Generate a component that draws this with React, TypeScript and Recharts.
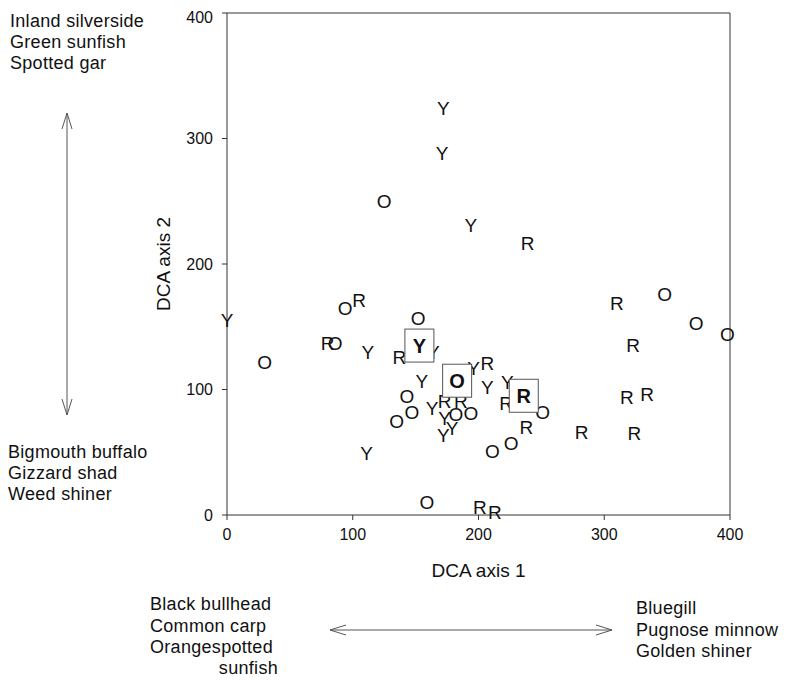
import React from "react";
import { ScatterChart, Scatter, XAxis, YAxis } from "recharts";

// Site scores on DCA axes, grouped by year class letter
const ySites: [number, number][] = [
  [172, 324], [171, 288], [194, 231], [0, 155], [112, 130], [111, 49],
  [155, 107], [163, 85], [173, 77], [172, 64], [179, 69], [196, 117],
  [207, 102], [223, 106], [164, 130],
];
const oSites: [number, number][] = [
  [125, 250], [94, 165], [86, 137], [30, 122], [152, 157], [143, 95],
  [147, 82], [135, 75], [182, 80], [194, 81], [211, 51], [226, 57],
  [251, 82], [159, 10], [348, 176], [373, 153], [398, 144],
];
const rSites: [number, number][] = [
  [105, 171], [80, 137], [137, 126], [239, 217], [207, 121], [173, 91],
  [186, 91], [222, 89], [238, 70], [201, 6], [213, 2], [310, 169],
  [323, 135], [318, 94], [334, 96], [282, 66], [324, 65],
];
const centroidLabels = ["Y", "O", "R"];
const centroidX = [153, 183, 236];
const centroidY = [135, 107, 95];

const axisTicks = [0, 100, 200, 300, 400];

const axis2High = ["Inland silverside", "Green sunfish", "Spotted gar"];
const axis2Low = ["Bigmouth buffalo", "Gizzard shad", "Weed shiner"];
const axis1Low = ["Black bullhead", "Common carp", "Orangespotted"];
const axis1LowLast = "sunfish";
const axis1High = ["Bluegill", "Pugnose minnow", "Golden shiner"];

const toPts = (arr: [number, number][]) => arr.map(([x, y]) => ({ x, y }));
const centroids = centroidLabels.map((l, i) => ({ x: centroidX[i], y: centroidY[i], l }));

const FONT = 'Arial, "Liberation Sans", Helvetica, sans-serif';

const letterShape = (letter: string) => (props: any) => (
  <text
    x={props.cx}
    y={props.cy}
    dy="0.36em"
    textAnchor="middle"
    fontSize={19}
    fontFamily={FONT}
    fill="#111"
  >
    {letter}
  </text>
);

const boxShape = (props: any) => (
  <g>
    <rect x={props.cx - 14.5} y={props.cy - 16.5} width={29} height={33} fill="#fff" stroke="#555" strokeWidth={1} />
    <text
      x={props.cx}
      y={props.cy}
      dy="0.36em"
      textAnchor="middle"
      fontSize={20}
      fontWeight="bold"
      fontFamily={FONT}
      fill="#111"
    >
      {props.payload.l}
    </text>
  </g>
);

const tickStyle = { fontSize: 16, fill: "#111", fontFamily: FONT };

const annoText = { fontSize: 18, fill: "#111", fontFamily: FONT, letterSpacing: 0.3 } as const;

export default function App() {
  return (
    <div style={{ position: "relative", width: 772, height: 672 }}>
      <ScatterChart width={772} height={617} margin={{ top: 0, right: 40, bottom: 0, left: 91 }}>
        <XAxis
          xAxisId="b"
          type="number"
          dataKey="x"
          domain={[0, 400]}
          ticks={axisTicks}
          orientation="bottom"
          height={110}
          tickSize={5}
          tickMargin={9}
          stroke="#333"
          tick={tickStyle}
          label={{ value: "DCA axis 1", position: "center", fontSize: 19, fill: "#111", fontFamily: FONT }}
        />
        <XAxis
          xAxisId="t"
          type="number"
          dataKey="x"
          domain={[0, 400]}
          ticks={axisTicks}
          orientation="top"
          height={5}
          tickSize={5}
          stroke="#333"
          tickFormatter={() => ""}
        />
        <YAxis
          yAxisId="l"
          type="number"
          dataKey="y"
          domain={[0, 400]}
          ticks={axisTicks}
          orientation="left"
          width={128}
          tickSize={5}
          tickMargin={9}
          stroke="#333"
          tick={tickStyle}
          label={{ value: "DCA axis 2", position: "center", angle: -90, fontSize: 19, fill: "#111", fontFamily: FONT }}
        />
        <YAxis
          yAxisId="r"
          type="number"
          dataKey="y"
          domain={[0, 400]}
          ticks={axisTicks}
          orientation="right"
          width={10}
          tickSize={5}
          stroke="#333"
          tickFormatter={() => ""}
        />
        <Scatter data={toPts(oSites)} xAxisId="b" yAxisId="l" shape={letterShape("O")} isAnimationActive={false} />
        <Scatter data={toPts(rSites)} xAxisId="b" yAxisId="l" shape={letterShape("R")} isAnimationActive={false} />
        <Scatter data={toPts(ySites)} xAxisId="b" yAxisId="l" shape={letterShape("Y")} isAnimationActive={false} />
        <Scatter data={centroids} xAxisId="b" yAxisId="l" shape={boxShape} isAnimationActive={false} />
      </ScatterChart>
      <svg
        width={780}
        height={672}
        style={{ position: "absolute", left: 0, top: 0, pointerEvents: "none" }}
      >
        {axis2High.map((t, i) => (
          <text key={t} x={2} y={19 + i * 21} {...annoText}>{t}</text>
        ))}
        <g stroke="#555" strokeWidth={1} fill="none">
          <line x1={59} y1={105} x2={59} y2={407} />
          <polyline points="54,121 59,105 64,121" />
          <polyline points="54,391 59,407 64,391" />
        </g>
        {axis2Low.map((t, i) => (
          <text key={t} x={0} y={450 + i * 21} {...annoText}>{t}</text>
        ))}
        {axis1Low.map((t, i) => (
          <text key={t} x={142} y={602 + i * 21.5} {...annoText}>{t}</text>
        ))}
        <text x={270} y={666} textAnchor="end" {...annoText}>{axis1LowLast}</text>
        <g stroke="#555" strokeWidth={1} fill="none">
          <line x1={322} y1={622} x2={604} y2={622} />
          <polyline points="338,617 322,622 338,627" />
          <polyline points="588,617 604,622 588,627" />
        </g>
        {axis1High.map((t, i) => (
          <text key={t} x={628} y={606 + i * 21.5} {...annoText}>{t}</text>
        ))}
      </svg>
    </div>
  );
}
